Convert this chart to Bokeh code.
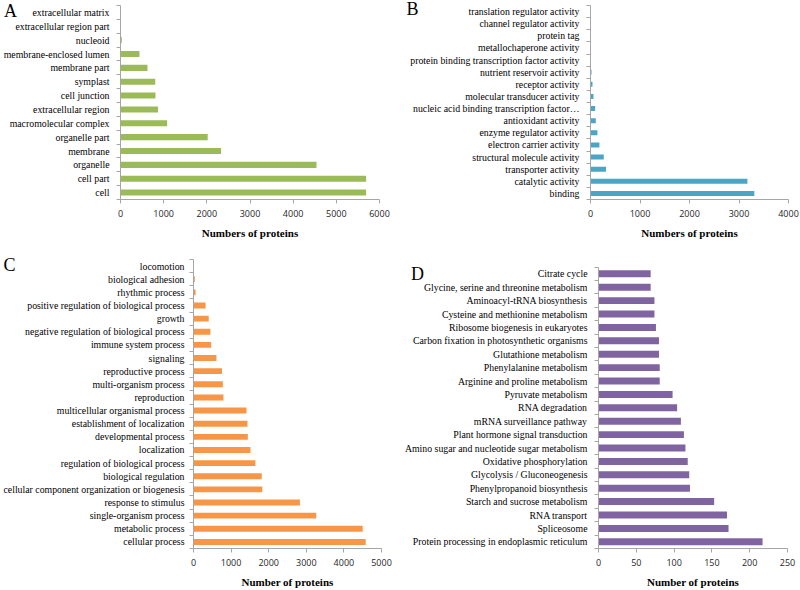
from bokeh.plotting import figure
from bokeh.models import Range1d, FixedTicker, Label
from bokeh.layouts import column, row
from bokeh.embed import file_html
from bokeh.resources import INLINE

# ---------------- data ----------------
a_cats = ["cell", "cell part", "organelle", "membrane", "organelle part",
          "macromolecular complex", "extracellular region", "cell junction",
          "symplast", "membrane part", "membrane-enclosed lumen", "nucleoid",
          "extracellular region part", "extracellular matrix"]
a_vals = [5690, 5690, 4540, 2330, 2020, 1080, 870, 810, 805, 625, 440, 30, 4, 2]

b_cats = ["binding", "catalytic activity", "transporter activity",
          "structural molecule activity", "electron carrier activity",
          "enzyme regulator activity", "antioxidant activity",
          "nucleic acid binding transcription factor\u2026",
          "molecular transducer activity", "receptor activity",
          "nutrient reservoir activity",
          "protein binding transcription factor activity",
          "metallochaperone activity", "protein tag",
          "channel regulator activity", "translation regulator activity"]
b_vals = [3310, 3170, 314, 268, 180, 140, 107, 94, 60, 40, 20, 6, 3, 2, 1, 1]

c_cats = ["cellular process", "metabolic process", "single-organism process",
          "response to stimulus", "cellular component organization or biogenesis",
          "biological regulation", "regulation of biological process",
          "localization", "developmental process", "establishment of localization",
          "multicellular organismal process", "reproduction",
          "multi-organism process", "reproductive process", "signaling",
          "immune system process", "negative regulation of biological process",
          "growth", "positive regulation of biological process",
          "rhythmic process", "biological adhesion", "locomotion"]
c_vals = [4580, 4500, 3265, 2830, 1830, 1815, 1645, 1515, 1445, 1435, 1410,
          795, 780, 760, 610, 470, 450, 405, 320, 55, 35, 3]

d_cats = ["Protein processing in endoplasmic reticulum", "Spliceosome",
          "RNA transport", "Starch and sucrose metabolism",
          "Phenylpropanoid biosynthesis", "Glycolysis / Gluconeogenesis",
          "Oxidative phosphorylation",
          "Amino sugar and nucleotide sugar metabolism",
          "Plant hormone signal transduction", "mRNA surveillance pathway",
          "RNA degradation", "Pyruvate metabolism",
          "Arginine and proline metabolism", "Phenylalanine metabolism",
          "Glutathione metabolism",
          "Carbon fixation in photosynthetic organisms",
          "Ribosome biogenesis in eukaryotes",
          "Cysteine and methionine metabolism", "Aminoacyl-tRNA biosynthesis",
          "Glycine, serine and threonine metabolism", "Citrate cycle"]
d_vals = [217, 172, 170, 153, 121, 120, 118, 115, 113, 109, 104, 98, 81, 81,
          80, 80, 76, 74, 74, 69, 69]

a_ticks = [0, 1000, 2000, 3000, 4000, 5000, 6000]
b_ticks = [0, 1000, 2000, 3000, 4000]
c_ticks = [0, 1000, 2000, 3000, 4000, 5000]
d_ticks = [0, 50, 100, 150, 200, 250]

AXIS_GREY = "#a6a6a6"
SERIF = "Liberation Serif"


def panel(cats, vals, color, ticks, xlabel, letter, letter_xy, w, h,
          borders, bar_h, label_size, y_standoff=7, top_pad=0.0):
    n = len(cats)
    idx = list(range(n))
    left, right, top, bottom = borders
    p = figure(width=w, height=h, x_range=Range1d(ticks[0], ticks[-1]),
               y_range=Range1d(-0.5, n - 0.5 + top_pad), output_backend="svg",
               toolbar_location=None, min_border_left=left,
               min_border_right=right, min_border_top=top,
               min_border_bottom=bottom)
    p.hbar(y=idx, left=0, right=vals, height=bar_h, fill_color=color,
           line_color=None)
    p.outline_line_color = None
    p.grid.visible = False
    p.background_fill_color = "white"
    p.border_fill_color = "white"

    xa = p.xaxis[0]
    xa.ticker = FixedTicker(ticks=ticks)
    xa.axis_line_color = AXIS_GREY
    xa.major_tick_line_color = AXIS_GREY
    xa.major_tick_out = 4
    xa.major_tick_in = 0
    xa.minor_tick_out = 0
    xa.minor_tick_in = 0
    xa.major_label_text_font = "Open Sans"
    xa.major_label_text_font_size = "9px"
    xa.major_label_text_color = "#262626"
    xa.major_label_standoff = 6
    xa.axis_label = xlabel
    xa.axis_label_text_font = SERIF
    xa.axis_label_text_font_style = "bold"
    xa.axis_label_text_font_size = "11px"
    xa.axis_label_text_color = "black"
    xa.axis_label_standoff = 7

    ya = p.yaxis[0]
    ya.ticker = FixedTicker(ticks=idx, minor_ticks=[i - 0.5 for i in range(n + 1)])
    ya.bounds = (-0.5, n - 0.5)
    ya.major_label_overrides = {i: c for i, c in enumerate(cats)}
    ya.axis_line_color = AXIS_GREY
    ya.major_tick_out = 0
    ya.major_tick_in = 0
    ya.major_tick_line_color = None
    ya.minor_tick_out = 4
    ya.minor_tick_in = 0
    ya.minor_tick_line_color = AXIS_GREY
    ya.major_label_text_font = SERIF
    ya.major_label_text_font_size = label_size
    ya.major_label_text_color = "black"
    ya.major_label_standoff = y_standoff

    # panel letter: placed in a side panel so that it is not clipped to the frame
    p.add_layout(Label(x=letter_xy[0], y=letter_xy[1], x_units="canvas",
                       y_units="canvas", text=letter, text_font=SERIF,
                       text_font_size="18px", text_align="center",
                       text_baseline="alphabetic", text_color="black"), "right")
    return p


pa = panel(a_cats, a_vals, "#9BBB59", a_ticks, "Numbers of proteins", "A",
           (10, 10), 400, 255, (120, 21, 5, 56), 0.44, "9.8px")
pb = panel(b_cats, b_vals, "#4BA5C5", b_ticks, "Numbers of proteins", "B",
           (12, 8), 400, 255, (190, 12, 5, 56), 0.42, "9.8px")
pc = panel(c_cats, c_vals, "#F79646", c_ticks, "Number of proteins", "C",
           (9, 9), 400, 335, (192, 19, 4, 41), 0.45, "9.8px", 5)
pd = panel(d_cats, d_vals, "#8064A2", d_ticks, "Number of proteins", "D",
           (17, 18), 400, 335, (198, 11, 4, 41), 0.52, "9.8px", 7, 0.57)

layout = column(row(pa, pb), row(pc, pd))

open("out.html", "w").write(file_html(layout, INLINE))
